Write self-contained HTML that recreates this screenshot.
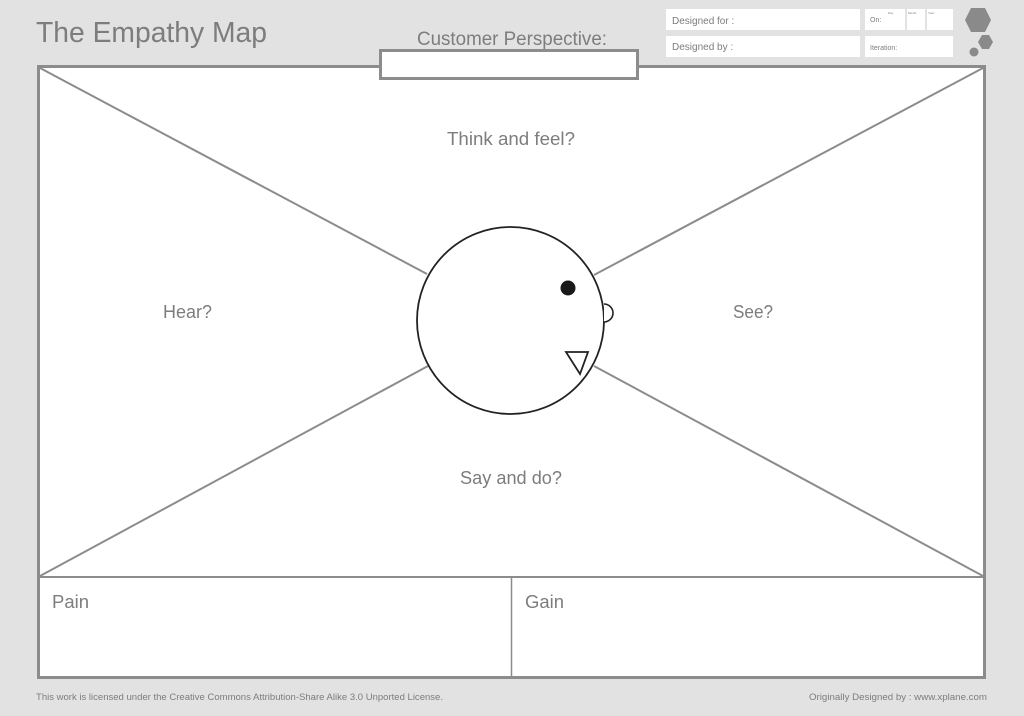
<!DOCTYPE html>
<html><head><meta charset="utf-8"><style>
html,body{margin:0;padding:0;background:#e2e2e2;}
svg{display:block;}
text{font-family:"Liberation Sans",sans-serif;fill:#7d7d7d;}
</style></head><body>
<svg width="1024" height="716" viewBox="0 0 1024 716" xmlns="http://www.w3.org/2000/svg">
<rect width="1024" height="716" fill="#e2e2e2"/>
<text x="36" y="42" font-size="29" textLength="231" lengthAdjust="spacingAndGlyphs">The Empathy Map</text>
<text x="417" y="45" font-size="19" textLength="190" lengthAdjust="spacingAndGlyphs">Customer Perspective:</text>
<rect x="666" y="9" width="194" height="21" fill="#fff"/>
<rect x="666" y="36" width="194" height="21" fill="#fff"/>
<rect x="865" y="9" width="40" height="21" fill="#fff"/>
<rect x="907" y="9" width="18" height="21" fill="#fff"/>
<rect x="927" y="9" width="26" height="21" fill="#fff"/>
<rect x="865" y="36" width="88" height="21" fill="#fff"/>
<text x="672" y="24" font-size="10" fill="#8a8a8a">Designed for :</text>
<text x="672" y="50" font-size="10" fill="#8a8a8a">Designed by :</text>
<text x="870" y="22" font-size="7">On:</text>
<text x="870" y="50" font-size="7">Iteration:</text>
<text x="888" y="14" font-size="3">Day</text>
<text x="908" y="14" font-size="3">Month</text>
<text x="928" y="14" font-size="3">Year</text>
<polygon points="965,20 971,8 985,8 991,20 985,32 971,32" fill="#8a8a8a"/>
<polygon points="978,42 982,35 989,35 993,42 989,49 982,49" fill="#8a8a8a"/>
<circle cx="974" cy="52" r="4.5" fill="#8a8a8a"/>
<rect x="38.5" y="66.5" width="946" height="611" fill="#fff" stroke="#8c8c8c" stroke-width="3"/>
<line x1="38" y1="577" x2="985" y2="577" stroke="#8c8c8c" stroke-width="2"/>
<line x1="511.5" y1="577" x2="511.5" y2="678" stroke="#8c8c8c" stroke-width="1.5"/>
<rect x="380.5" y="50.5" width="257" height="28" fill="#fff" stroke="#8c8c8c" stroke-width="3"/>
<g stroke="#8c8c8c" stroke-width="2">
<line x1="40" y1="68" x2="427" y2="274"/>
<line x1="40" y1="576" x2="428" y2="366"/>
<line x1="983" y1="68" x2="594" y2="275"/>
<line x1="983" y1="576" x2="594" y2="366"/>
</g>
<circle cx="510.5" cy="320.5" r="93.5" fill="#fff" stroke="#222" stroke-width="1.8"/>
<circle cx="568" cy="288" r="7.5" fill="#1a1a1a"/>
<path d="M604 304 A9 9 0 0 1 604 322" fill="#fff" stroke="#222" stroke-width="1.6"/>
<polygon points="566,352 588,352 580,374" fill="#fff" stroke="#222" stroke-width="1.8"/>
<text x="447" y="145" font-size="18" textLength="128" lengthAdjust="spacingAndGlyphs">Think and feel?</text>
<text x="163" y="318" font-size="18" textLength="49" lengthAdjust="spacingAndGlyphs">Hear?</text>
<text x="733" y="318" font-size="18" textLength="40" lengthAdjust="spacingAndGlyphs">See?</text>
<text x="460" y="484" font-size="18" textLength="102" lengthAdjust="spacingAndGlyphs">Say and do?</text>
<text x="52" y="608" font-size="18" textLength="37" lengthAdjust="spacingAndGlyphs">Pain</text>
<text x="525" y="608" font-size="18" textLength="39" lengthAdjust="spacingAndGlyphs">Gain</text>
<text x="36" y="700" font-size="9" textLength="407" lengthAdjust="spacingAndGlyphs">This work is licensed under the Creative Commons Attribution-Share Alike 3.0 Unported License.</text>
<text x="809" y="700" font-size="9" textLength="178" lengthAdjust="spacingAndGlyphs">Originally Designed by : www.xplane.com</text>
</svg>
</body></html>
